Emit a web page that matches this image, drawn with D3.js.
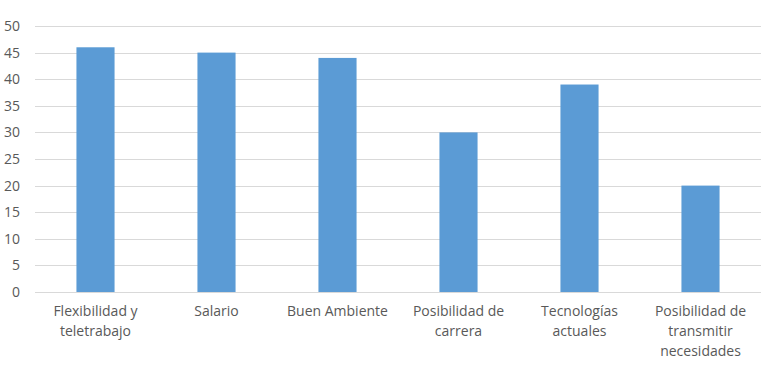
<!DOCTYPE html>
<html>
<head>
<meta charset="utf-8">
<script src="https://cdn.jsdelivr.net/npm/d3@7"></script>
<style>
	body { margin: 0; background: #fff; }
	text { font-family: "Open Sans", "Noto Sans", sans-serif; fill: #595959; }
</style>
</head>
<body>
<script>
// datos
var categories = ['Flexibilidad y teletrabajo', 'Salario', 'Buen Ambiente', 'Posibilidad de carrera', 'Tecnologías actuales', 'Posibilidad de transmitir necesidades'];
var values = [46, 45, 44, 30, 39, 20];
var yTicks = [0, 5, 10, 15, 20, 25, 30, 35, 40, 45, 50];

var width = 772, height = 376;
var plotLeft = 35, plotRight = 761, plotTop = 26, plotBottom = 292;

var svg = d3.select('body').append('svg')
	.attr('width', width)
	.attr('height', height);

var x = d3.scaleBand().domain(categories).range([plotLeft, plotRight]).padding(0);
var y = d3.scaleLinear().domain([0, 50]).range([plotBottom, plotTop]);

// gridlines
svg.append('g')
	.selectAll('line')
	.data(yTicks)
	.join('line')
		.attr('x1', plotLeft)
		.attr('x2', plotRight)
		.attr('y1', function(d) { return Math.round(y(d)) + 0.5; })
		.attr('y2', function(d) { return Math.round(y(d)) + 0.5; })
		.attr('stroke', '#d9d9d9')
		.attr('stroke-width', 1);

// y axis labels
var yAxis = d3.axisLeft(y).tickValues(yTicks).tickSize(0).tickPadding(0);
svg.append('g')
	.attr('transform', 'translate(20,0)')
	.call(yAxis)
	.call(function(g) { g.select('.domain').remove(); })
	.selectAll('text')
		.attr('font-size', '14px')
		.attr('font-family', '"Open Sans", sans-serif')
		.attr('fill', '#595959');

// bars
var barW = x.bandwidth() * 0.315;
svg.append('g')
	.selectAll('rect')
	.data(values)
	.join('rect')
		.attr('x', function(d, i) { return x(categories[i]) + x.bandwidth() / 2 - barW / 2; })
		.attr('y', function(d) { return y(d); })
		.attr('width', barW)
		.attr('height', function(d) { return y(0) - y(d); })
		.attr('fill', '#5b9bd5');

// x axis labels
var xAxis = d3.axisBottom(x).tickSize(0).tickPadding(0);
var xg = svg.append('g')
	.attr('transform', 'translate(0,' + 306 + ')')
	.call(xAxis)
	.call(function(g) { g.select('.domain').remove(); });

xg.selectAll('text')
	.attr('font-size', '14px')
	.attr('font-family', '"Open Sans", sans-serif')
	.attr('fill', '#595959')
	.call(wrap, 112);

function wrap(sel, w) {
	sel.each(function() {
		var text = d3.select(this);
		var words = text.text().split(/\s+/);
		text.text(null);
		var line = [];
		var tspan = text.append('tspan').attr('x', 0).attr('dy', '0.71em');
		words.forEach(function(word) {
			line.push(word);
			tspan.text(line.join(' '));
			if (tspan.node().getComputedTextLength() > w && line.length > 1) {
				line.pop();
				tspan.text(line.join(' '));
				line = [word];
				tspan = text.append('tspan').attr('x', 0).attr('dy', '20px').text(word);
			}
		});
	});
}
</script>
</body>
</html>
